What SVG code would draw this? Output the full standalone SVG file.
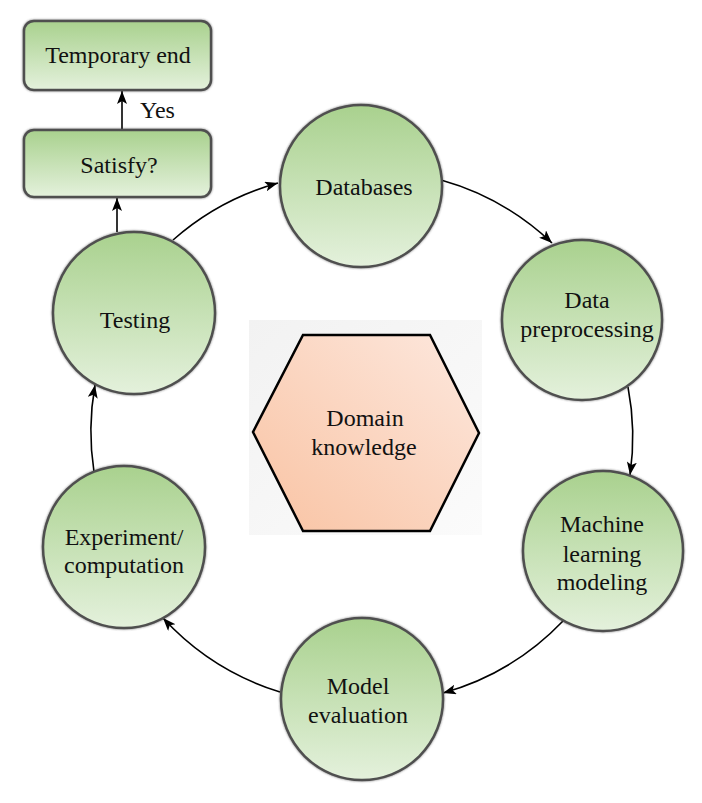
<svg xmlns="http://www.w3.org/2000/svg" width="702" height="803" viewBox="0 0 702 803">
<defs>
<linearGradient id="green" x1="0" y1="0" x2="0" y2="1">
<stop offset="0" stop-color="#a9d18e"/>
<stop offset="1" stop-color="#e4f1dc"/>
</linearGradient>
<linearGradient id="peach" x1="1" y1="0" x2="0" y2="1">
<stop offset="0" stop-color="#fde8de"/>
<stop offset="1" stop-color="#f9c3a3"/>
</linearGradient>
<linearGradient id="panel" x1="0" y1="0" x2="1" y2="1">
<stop offset="0" stop-color="#f2f2f2"/>
<stop offset="1" stop-color="#fbfbfb"/>
</linearGradient>
<filter id="halo" x="-10%" y="-10%" width="120%" height="120%">
<feGaussianBlur in="SourceAlpha" stdDeviation="1.3" result="b"/>
<feFlood flood-color="#333" flood-opacity="0.7"/>
<feComposite in2="b" operator="in" result="s"/>
<feMerge><feMergeNode in="s"/><feMergeNode in="SourceGraphic"/></feMerge>
</filter>
<marker id="arrow" markerUnits="userSpaceOnUse" markerWidth="16" markerHeight="12" refX="13" refY="5" orient="auto">
<path d="M0,0 L13,5 L0,10 L3,5 Z" fill="#000"/>
</marker>
</defs>
<style>
.node{fill:url(#green);stroke:#4f4f4f;stroke-width:2.5;filter:url(#halo)}
.lbl{font-family:"Liberation Serif","Times New Roman",serif;font-size:24px;fill:#111;text-anchor:middle}
.conn{fill:none;stroke:#000;stroke-width:1.6;marker-end:url(#arrow)}
</style>

<g id="connectors">
<path class="conn" d="M173,240 A265,265 0 0 1 278,183"/>
<path class="conn" d="M441,180 A265,265 0 0 1 552,243"/>
<path class="conn" d="M628,387 A265,265 0 0 1 630,475"/>
<path class="conn" d="M563,621 A265,265 0 0 1 443,693"/>
<path class="conn" d="M280,692 A265,265 0 0 1 163,618"/>
<path class="conn" d="M94,472 A265,265 0 0 1 95,385"/>
<path class="conn" d="M117,232 L117,198"/>
<path class="conn" d="M122,130 L122,91"/>
<text x="140" y="118" font-family="Liberation Serif, serif" font-size="24" fill="#111">Yes</text>
</g>

<g id="temporary-end">
<rect class="node" x="24" y="21" width="187" height="69" rx="10"/>
<text class="lbl" x="118" y="63">Temporary end</text>
</g>

<g id="satisfy">
<rect class="node" x="24" y="130" width="187" height="67" rx="10"/>
<text class="lbl" x="119" y="173">Satisfy?</text>
</g>

<g id="databases">
<circle class="node" cx="361" cy="186" r="81"/>
<text class="lbl" x="364" y="195">Databases</text>
</g>

<g id="data-preprocessing">
<circle class="node" cx="582" cy="320" r="80"/>
<text class="lbl" x="587" y="308">Data</text>
<text class="lbl" x="587" y="337">preprocessing</text>
</g>

<g id="ml-modeling">
<circle class="node" cx="603" cy="551" r="80"/>
<text class="lbl" x="602" y="532">Machine</text>
<text class="lbl" x="602" y="562">learning</text>
<text class="lbl" x="602" y="590">modeling</text>
</g>

<g id="model-evaluation">
<circle class="node" cx="362" cy="699" r="81"/>
<text class="lbl" x="358" y="694">Model</text>
<text class="lbl" x="358" y="723">evaluation</text>
</g>

<g id="experiment">
<circle class="node" cx="124" cy="547" r="81"/>
<text class="lbl" x="124" y="545">Experiment/</text>
<text class="lbl" x="124" y="573">computation</text>
</g>

<g id="testing">
<circle class="node" cx="134" cy="313" r="81"/>
<text class="lbl" x="135" y="328">Testing</text>
</g>

<g id="domain-knowledge">
<rect x="249" y="320" width="233" height="215" fill="url(#panel)"/>
<polygon points="303,335 430,335 479,433 430,531 303,531 253,432" fill="url(#peach)" stroke="#000" stroke-width="2.5" stroke-linejoin="miter"/>
<text class="lbl" x="365" y="426">Domain</text>
<text class="lbl" x="364" y="455">knowledge</text>
</g>
</svg>
